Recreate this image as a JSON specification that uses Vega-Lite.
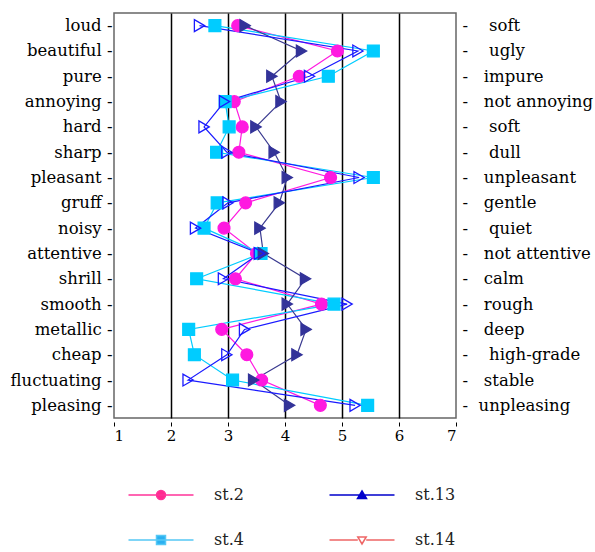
{
  "$schema": "https://vega.github.io/schema/vega-lite/v6.json",
  "width": 342,
  "height": 405,
  "autosize": {"type": "none"},
  "padding": {"left": 114, "top": 13, "right": 139, "bottom": 134},
  "background": "white",
  "config": {
    "view": {"stroke": "#666666", "strokeWidth": 1.5},
    "font": "DejaVu Serif",
    "axis": {"labelFont": "DejaVu Serif", "labelFontSize": 16.5, "labelColor": "#000000"}
  },
  "data": {
    "values": [
      {"attr": "loud", "i": 0, "series": "st.2", "value": 3.17},
      {"attr": "loud", "i": 0, "series": "st.4", "value": 2.77},
      {"attr": "loud", "i": 0, "series": "st.13", "value": 3.30},
      {"attr": "loud", "i": 0, "series": "st.14", "value": 2.50},
      {"attr": "beautiful", "i": 1, "series": "st.2", "value": 4.92},
      {"attr": "beautiful", "i": 1, "series": "st.4", "value": 5.55},
      {"attr": "beautiful", "i": 1, "series": "st.13", "value": 4.29},
      {"attr": "beautiful", "i": 1, "series": "st.14", "value": 5.28},
      {"attr": "pure", "i": 2, "series": "st.2", "value": 4.25},
      {"attr": "pure", "i": 2, "series": "st.4", "value": 4.76},
      {"attr": "pure", "i": 2, "series": "st.13", "value": 3.77},
      {"attr": "pure", "i": 2, "series": "st.14", "value": 4.43},
      {"attr": "annoying", "i": 3, "series": "st.2", "value": 3.11},
      {"attr": "annoying", "i": 3, "series": "st.4", "value": 2.95},
      {"attr": "annoying", "i": 3, "series": "st.13", "value": 3.93},
      {"attr": "annoying", "i": 3, "series": "st.14", "value": 2.94},
      {"attr": "hard", "i": 4, "series": "st.2", "value": 3.25},
      {"attr": "hard", "i": 4, "series": "st.4", "value": 3.02},
      {"attr": "hard", "i": 4, "series": "st.13", "value": 3.49},
      {"attr": "hard", "i": 4, "series": "st.14", "value": 2.58},
      {"attr": "sharp", "i": 5, "series": "st.2", "value": 3.19},
      {"attr": "sharp", "i": 5, "series": "st.4", "value": 2.80},
      {"attr": "sharp", "i": 5, "series": "st.13", "value": 3.81},
      {"attr": "sharp", "i": 5, "series": "st.14", "value": 2.98},
      {"attr": "pleasant", "i": 6, "series": "st.2", "value": 4.80},
      {"attr": "pleasant", "i": 6, "series": "st.4", "value": 5.55},
      {"attr": "pleasant", "i": 6, "series": "st.13", "value": 4.04},
      {"attr": "pleasant", "i": 6, "series": "st.14", "value": 5.30},
      {"attr": "gruff", "i": 7, "series": "st.2", "value": 3.31},
      {"attr": "gruff", "i": 7, "series": "st.4", "value": 2.81},
      {"attr": "gruff", "i": 7, "series": "st.13", "value": 3.90},
      {"attr": "gruff", "i": 7, "series": "st.14", "value": 3.00},
      {"attr": "noisy", "i": 8, "series": "st.2", "value": 2.93},
      {"attr": "noisy", "i": 8, "series": "st.4", "value": 2.58},
      {"attr": "noisy", "i": 8, "series": "st.13", "value": 3.56},
      {"attr": "noisy", "i": 8, "series": "st.14", "value": 2.43},
      {"attr": "attentive", "i": 9, "series": "st.2", "value": 3.50},
      {"attr": "attentive", "i": 9, "series": "st.4", "value": 3.58},
      {"attr": "attentive", "i": 9, "series": "st.13", "value": 3.62},
      {"attr": "attentive", "i": 9, "series": "st.14", "value": 3.55},
      {"attr": "shrill", "i": 10, "series": "st.2", "value": 3.13},
      {"attr": "shrill", "i": 10, "series": "st.4", "value": 2.45},
      {"attr": "shrill", "i": 10, "series": "st.13", "value": 4.36},
      {"attr": "shrill", "i": 10, "series": "st.14", "value": 2.92},
      {"attr": "smooth", "i": 11, "series": "st.2", "value": 4.64},
      {"attr": "smooth", "i": 11, "series": "st.4", "value": 4.86},
      {"attr": "smooth", "i": 11, "series": "st.13", "value": 4.04},
      {"attr": "smooth", "i": 11, "series": "st.14", "value": 5.09},
      {"attr": "metallic", "i": 12, "series": "st.2", "value": 2.89},
      {"attr": "metallic", "i": 12, "series": "st.4", "value": 2.31},
      {"attr": "metallic", "i": 12, "series": "st.13", "value": 4.37},
      {"attr": "metallic", "i": 12, "series": "st.14", "value": 3.29},
      {"attr": "cheap", "i": 13, "series": "st.2", "value": 3.33},
      {"attr": "cheap", "i": 13, "series": "st.4", "value": 2.41},
      {"attr": "cheap", "i": 13, "series": "st.13", "value": 4.21},
      {"attr": "cheap", "i": 13, "series": "st.14", "value": 2.98},
      {"attr": "fluctuating", "i": 14, "series": "st.2", "value": 3.59},
      {"attr": "fluctuating", "i": 14, "series": "st.4", "value": 3.08},
      {"attr": "fluctuating", "i": 14, "series": "st.13", "value": 3.45},
      {"attr": "fluctuating", "i": 14, "series": "st.14", "value": 2.30},
      {"attr": "pleasing", "i": 15, "series": "st.2", "value": 4.62},
      {"attr": "pleasing", "i": 15, "series": "st.4", "value": 5.45},
      {"attr": "pleasing", "i": 15, "series": "st.13", "value": 4.08},
      {"attr": "pleasing", "i": 15, "series": "st.14", "value": 5.23}
    ]
  },
  "layer": [
    {
      "mark": {"type": "line", "strokeWidth": 1.2},
      "encoding": {
        "x": {
          "field": "value", "type": "quantitative",
          "scale": {"domain": [1, 7], "nice": false, "zero": false},
          "axis": {
            "values": [1, 2, 3, 4, 5, 6, 7], "format": "d", "title": null,
            "grid": true,
            "gridColor": {"condition": {"test": "datum.value === 1 || datum.value === 7", "value": "transparent"}, "value": "#000000"},
            "gridWidth": 1.5, "domain": false, "offset": 4, "tickSize": 4, "tickColor": "#000000", "labelPadding": 2, "labelFontSize": 15
          }
        },
        "y": {
          "field": "attr", "type": "nominal", "sort": null,
          "scale": {"type": "point", "padding": 0.5, "domain": ["loud", "beautiful", "pure", "annoying", "hard", "sharp", "pleasant", "gruff", "noisy", "attentive", "shrill", "smooth", "metallic", "cheap", "fluctuating", "pleasing"]},
          "axis": {"orient": "left", "title": null, "domain": false, "ticks": false, "grid": false, "labelPadding": 2, "labelExpr": "datum.value + ' -'"}
        },
        "stroke": {
          "field": "series", "type": "nominal", "legend": null,
          "scale": {"domain": ["st.2", "st.13", "st.4", "st.14"], "range": ["#ff19e0", "#3a3a90", "#00ccff", "#1a1aff"]}
        },
        "order": {"field": "i", "type": "quantitative"}
      }
    },
    {
      "mark": {"type": "point", "filled": false, "strokeWidth": 1.3, "size": 140, "opacity": 1},
      "encoding": {
        "x": {
          "field": "value", "type": "quantitative",
          "scale": {"domain": [1, 7], "nice": false, "zero": false},
          "axis": {
            "values": [1, 2, 3, 4, 5, 6, 7], "format": "d", "title": null,
            "grid": true,
            "gridColor": {"condition": {"test": "datum.value === 1 || datum.value === 7", "value": "transparent"}, "value": "#000000"},
            "gridWidth": 1.5, "domain": false, "offset": 4, "tickSize": 4, "tickColor": "#000000", "labelPadding": 2, "labelFontSize": 15
          }
        },
        "y": {
          "field": "attr", "type": "nominal", "sort": null,
          "axis": {
            "orient": "right", "title": null, "domain": false, "ticks": false, "grid": false, "labelPadding": 6, "labelAlign": "left",
            "labelExpr": "['-\u00a0\u00a0\u00a0\u00a0soft', '-\u00a0\u00a0\u00a0\u00a0ugly', '-\u00a0\u00a0\u00a0impure', '-\u00a0\u00a0\u00a0not annoying', '-\u00a0\u00a0\u00a0\u00a0soft', '-\u00a0\u00a0\u00a0\u00a0dull', '-\u00a0\u00a0\u00a0unpleasant', '-\u00a0\u00a0\u00a0gentle', '-\u00a0\u00a0\u00a0\u00a0quiet', '-\u00a0\u00a0\u00a0not attentive', '-\u00a0\u00a0\u00a0calm', '-\u00a0\u00a0\u00a0rough', '-\u00a0\u00a0\u00a0deep', '-\u00a0\u00a0\u00a0\u00a0high-grade', '-\u00a0\u00a0\u00a0stable', '-\u00a0\u00a0unpleasing'][indexof(['loud', 'beautiful', 'pure', 'annoying', 'hard', 'sharp', 'pleasant', 'gruff', 'noisy', 'attentive', 'shrill', 'smooth', 'metallic', 'cheap', 'fluctuating', 'pleasing'], datum.value)]"
          }
        },
        "stroke": {
          "field": "series", "type": "nominal", "legend": null,
          "scale": {"domain": ["st.2", "st.13", "st.4", "st.14"], "range": ["#ff19e0", "#333399", "#00ccff", "#1a1aff"]}
        },
        "fill": {
          "field": "series", "type": "nominal", "legend": null,
          "scale": {"domain": ["st.2", "st.13", "st.4", "st.14"], "range": ["#ff19e0", "#333399", "#00ccff", "transparent"]}
        },
        "shape": {
          "field": "series", "type": "nominal", "legend": null,
          "scale": {"domain": ["st.2", "st.13", "st.4", "st.14"], "range": ["circle", "triangle-right", "square", "triangle-right"]}
        }
      }
    },
    {
      "transform": [{"filter": "datum.i < 0"}],
      "mark": {"type": "point", "filled": false, "strokeWidth": 1.5, "opacity": 1},
      "encoding": {
        "x": {
          "field": "value", "type": "quantitative",
          "scale": {"domain": [1, 7], "nice": false, "zero": false},
          "axis": {
            "values": [1, 2, 3, 4, 5, 6, 7], "format": "d", "title": null,
            "grid": true,
            "gridColor": {"condition": {"test": "datum.value === 1 || datum.value === 7", "value": "transparent"}, "value": "#000000"},
            "gridWidth": 1.5, "domain": false, "offset": 4, "tickSize": 4, "tickColor": "#000000", "labelPadding": 2, "labelFontSize": 15
          }
        },
        "y": {"field": "attr", "type": "nominal", "sort": null, "axis": null},
        "stroke": {
          "field": "series", "type": "nominal",
          "scale": {"domain": ["st.2", "st.13", "st.4", "st.14"], "range": ["#ff3399", "#0000cc", "#55c8f5", "#ee6666"]},
          "legend": {
            "title": null, "orient": "none", "legendX": 36, "legendY": 471, "columns": 2,
            "values": ["st.2", "st.4", "st.13", "st.14"],
            "symbolSize": 400, "labelOffset": 42, "columnPadding": 82, "rowPadding": 26,
            "labelFont": "DejaVu Serif", "labelFontSize": 16, "labelColor": "#222222", "symbolStrokeWidth": 1.5
          }
        },
        "fill": {
          "field": "series", "type": "nominal",
          "scale": {"domain": ["st.2", "st.13", "st.4", "st.14"], "range": ["#ff2a8f", "#0000cc", "#2ab0f0", "#ffffff"]},
          "legend": {
            "title": null, "orient": "none", "legendX": 36, "legendY": 471, "columns": 2,
            "values": ["st.2", "st.4", "st.13", "st.14"],
            "symbolSize": 400, "labelOffset": 42, "columnPadding": 82, "rowPadding": 26,
            "labelFont": "DejaVu Serif", "labelFontSize": 16, "labelColor": "#222222", "symbolStrokeWidth": 1.5
          }
        },
        "shape": {
          "field": "series", "type": "nominal",
          "scale": {"domain": ["st.2", "st.13", "st.4", "st.14"], "range": [
            "M-3.25,0H3.25M-0.45,0A0.45,0.45 0 1,0 0.45,0A0.45,0.45 0 1,0 -0.45,0Z",
            "M-3.25,0H3.25M0,-0.4L0.45,0.35H-0.45Z",
            "M-3.25,0H3.25M-0.45,-0.45H0.45V0.45H-0.45Z",
            "M-3.25,0H-0.42M0.42,0H3.25M-0.42,-0.3H0.42L0,0.4Z"
          ]},
          "legend": {
            "title": null, "orient": "none", "legendX": 36, "legendY": 471, "columns": 2,
            "values": ["st.2", "st.4", "st.13", "st.14"],
            "symbolSize": 400, "labelOffset": 42, "columnPadding": 82, "rowPadding": 26,
            "labelFont": "DejaVu Serif", "labelFontSize": 16, "labelColor": "#222222", "symbolStrokeWidth": 1.5
          }
        }
      }
    }
  ],
  "resolve": {
    "axis": {"y": "independent"},
    "scale": {"stroke": "independent", "fill": "independent", "shape": "independent"}
  }
}
